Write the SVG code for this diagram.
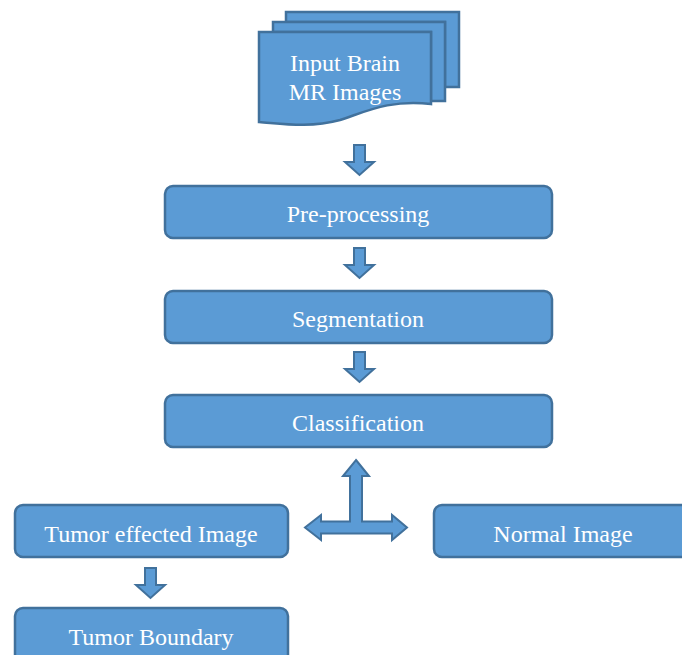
<svg xmlns="http://www.w3.org/2000/svg" width="682" height="655" viewBox="0 0 682 655">
<style>
.box{fill:#5B9BD5;stroke:#41719C;stroke-width:2.5}
.arr{fill:#5B9BD5;stroke:#41719C;stroke-width:2;stroke-linejoin:miter}
text{font-family:"Liberation Serif","Times New Roman",serif;font-size:24px;fill:#fff;text-anchor:middle}
</style>
<rect width="682" height="655" fill="#fff"/>
<g id="input">
<path class="box" d="M286,12 H459 V87 H445 V22 H286 Z"/>
<path class="box" d="M273,22 H445 V101 H431 V32 H273 Z"/>
<path class="box" d="M259,32 H431 V104 C390,99 365,112 340,120 C310,128 285,124 259,122 Z"/>
<text x="345" y="71">Input Brain</text>
<text x="345" y="100">MR Images</text>
</g>
<g id="preprocessing">
<rect class="box" x="165" y="186" width="387" height="52" rx="8"/>
<text x="358" y="222">Pre-processing</text>
</g>
<g id="segmentation">
<rect class="box" x="165" y="291" width="387" height="52" rx="8"/>
<text x="358" y="327">Segmentation</text>
</g>
<g id="classification">
<rect class="box" x="165" y="395" width="387" height="52" rx="8"/>
<text x="358" y="431">Classification</text>
</g>
<g id="tumor-effected">
<rect class="box" x="15" y="505" width="273" height="52" rx="8"/>
<text x="151" y="542">Tumor effected Image</text>
</g>
<g id="normal">
<rect class="box" x="434" y="505" width="260" height="52" rx="8"/>
<text x="563" y="542">Normal Image</text>
</g>
<g id="tumor-boundary">
<rect class="box" x="15" y="608" width="273" height="60" rx="8"/>
<text x="151" y="645">Tumor Boundary</text>
</g>
<g id="connectors">
<path class="arr" d="M354,145 H365 V162 H374 L359.5,175 L345,162 H354 Z"/>
<path class="arr" d="M354,248 H365 V265 H374 L359.5,278 L345,265 H354 Z"/>
<path class="arr" d="M354,352 H365 V369 H374 L359.5,382 L345,369 H354 Z"/>
<path class="arr" d="M145,568 H156 V585 H165 L150.5,598 L136,585 H145 Z"/>
<path class="arr" d="M356,460 L369,476 H362 V521.5 H392 V515 L407,527.5 L392,540 V533.5 H321 V540 L305,527.5 L321,515 V521.5 H350 V476 H343 Z"/>
</g>
</svg>
